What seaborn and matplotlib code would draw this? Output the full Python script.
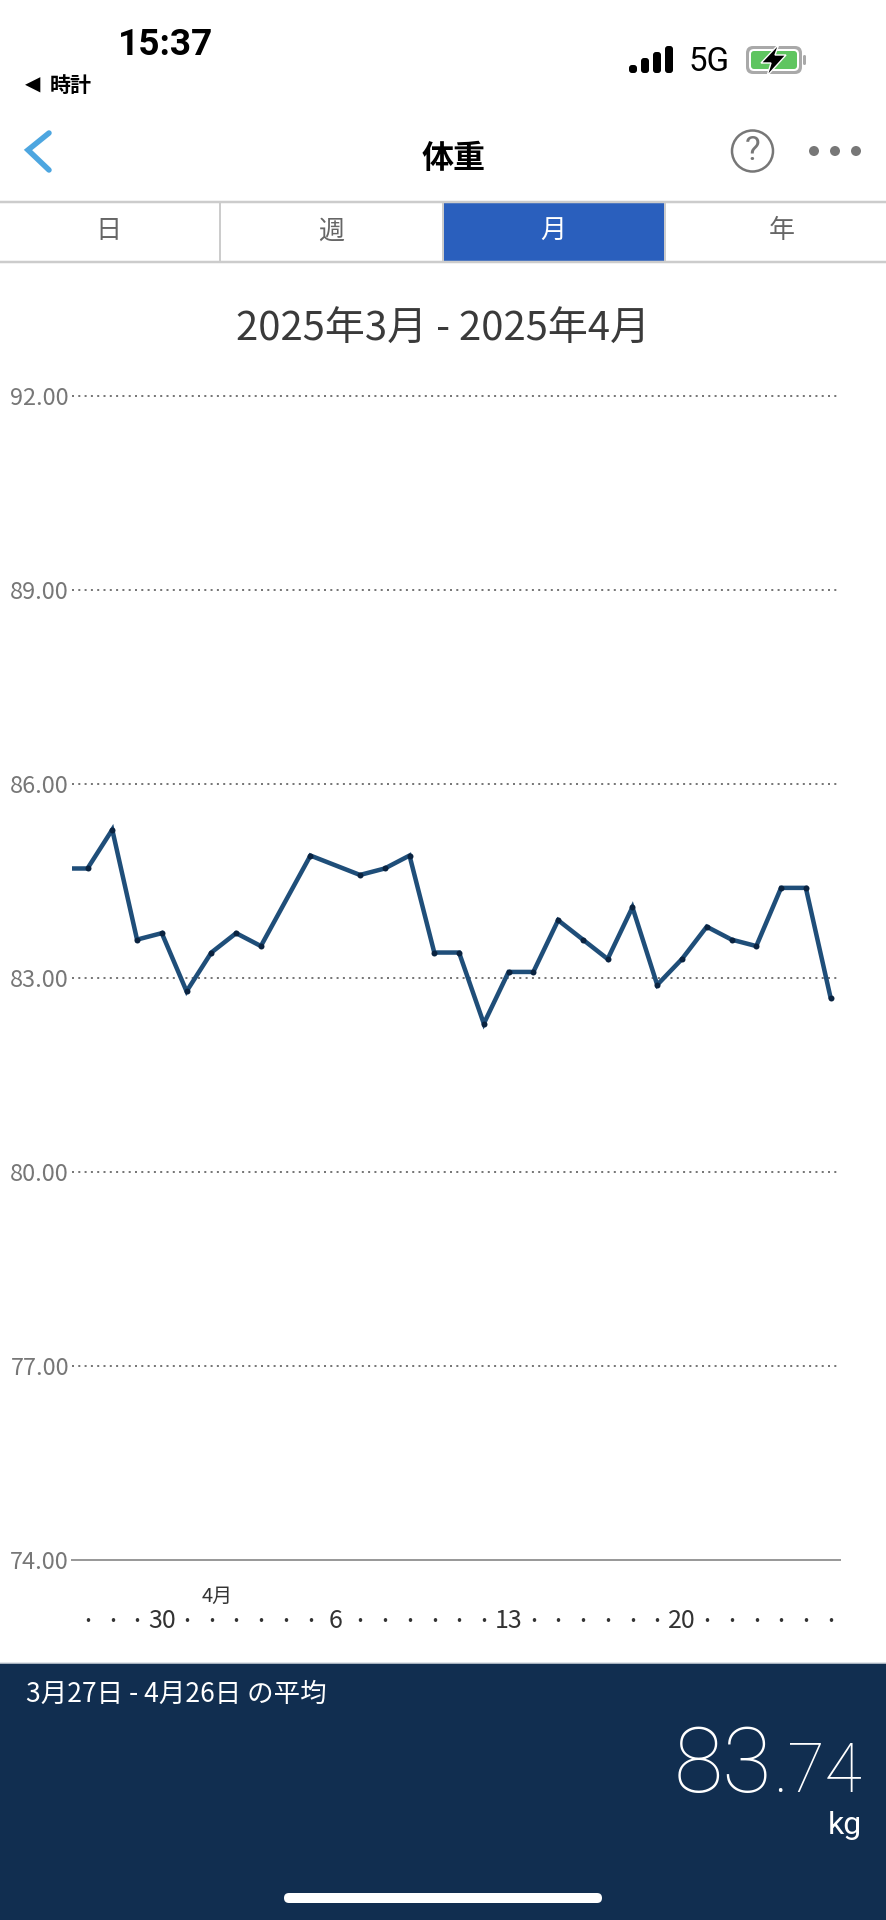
import matplotlib
matplotlib.use("Agg")
import matplotlib.pyplot as plt
from matplotlib.patches import FancyBboxPatch, Rectangle, Circle, Polygon
import pandas as pd
import seaborn as sns

# Data (days counted from 3/27, -1 is the clipped point on the left edge)
day_offset = [-1, 0, 1, 2, 3, 4, 5, 6, 7, 9, 11, 12, 13, 14, 15, 16, 17, 18, 19,
              20, 21, 22, 23, 24, 25, 26, 27, 28, 29, 30]
weight = [84.7, 84.7, 85.3, 83.6, 83.7, 82.8, 83.4, 83.7, 83.5, 84.9, 84.6, 84.7, 84.9, 83.4, 83.4,
          82.3, 83.1, 83.1, 83.9, 83.6, 83.3, 84.1, 82.9, 83.3, 83.8, 83.6, 83.5, 84.4, 84.4, 82.7]
y_ticks = [74, 77, 80, 83, 86, 89, 92]
x_ticks = list(range(31))
x_labels = ["•", "•", "•", "30", "•", "•", "•", "•", "•", "•", "6", "•", "•", "•", "•", "•", "•", "13",
            "•", "•", "•", "•", "•", "•", "20", "•", "•", "•", "•", "•", "•"]
tabs = ["日", "週", "月", "年"]

W, H = 886, 1920
NARROW = ["Liberation Sans Narrow", "Noto Sans CJK JP", "DejaVu Sans"]
NAVY = "#112e50"


def px(size):
    return size * 0.72


sns.set_theme(style="white")
plt.rcParams["font.family"] = NARROW

fig = plt.figure(figsize=(W / 100, H / 100), dpi=100, facecolor="white")

# Screen furniture, in pixels
ui = fig.add_axes([0, 0, 1, 1], zorder=0)
ui.set_xlim(0, W)
ui.set_ylim(H, 0)
ui.axis("off")


def label(x, y, s, size, color="#333333", ha="center", va="center", **kw):
    return ui.text(x, y, s, fontsize=px(size), color=color, ha=ha, va=va, **kw)


def rounded(x, y, w, h, r, color, **kw):
    ui.add_patch(FancyBboxPatch((x + r, y + r), w - 2 * r, h - 2 * r, boxstyle=f"round,pad={r}",
                                fc=color, ec="none", **kw))


# status bar
label(166, 45, "15:37", 37, "black", family=["Roboto", "DejaVu Sans"], weight="bold")
label(33, 85, "◀", 20, "black", family=["DejaVu Sans"])
label(71, 85, "時計", 21, "black", family=["Noto Sans CJK JP"], weight="bold")
for bx, top in zip([629, 641, 653, 665], [65, 58, 52, 46]):
    rounded(bx, top, 8, 73 - top, 3, "black")
label(709, 62, "5G", 33, "black", family=["Roboto", "DejaVu Sans"])
rounded(746, 46, 56, 28, 7, "#a9a9a9")
rounded(749, 49, 50, 22, 5, "white")
rounded(751, 51, 46, 18, 3, "#5fc560")
rounded(803, 55, 3, 10, 1.5, "#a9a9a9")
ui.add_patch(Polygon([(779, 44), (761, 63), (771, 63), (767, 76), (786, 55), (775, 55)],
                     fc="black", ec="white", lw=1))

# nav bar
ui.plot([49, 28, 49], [133, 150, 170], color="#4da6e0", lw=px(5.5), solid_joinstyle="miter")
label(454, 159, "体重", 32, "black", family=["Noto Sans CJK JP"], weight="bold")
ui.add_patch(Circle((752.5, 151), 20.5, fc="none", ec="#777777", lw=px(2.5)))
label(752.5, 151, "?", 33, "#777777", family=["Roboto", "DejaVu Sans"])
for cx in [814, 835, 856]:
    ui.add_patch(Circle((cx, 151), 5, fc="#777777", ec="none"))

# tabs
ui.add_patch(Rectangle((442, 203), 222, 58, fc="#2a5fbd", ec="none"))
ui.plot([0, W], [202, 202], color="#cccccc", lw=px(2.5))
ui.plot([0, W], [262, 262], color="#cccccc", lw=px(2.5))
for dx in [220, 443, 665]:
    ui.plot([dx, dx], [202, 262], color="#cccccc", lw=px(2))
for tx, tab in zip([108, 331, 553, 782], tabs):
    label(tx, 231, tab, 26, "white" if tab == "月" else "#666666", family=["Noto Sans CJK JP"])

label(443, 330, "2025年3月 - 2025年4月", 40, "#3a3a3a")

# bottom panel
ui.add_patch(Rectangle((0, 1663), W, H - 1663, fc=NAVY, ec="none"))
ui.plot([0, W], [1662.5, 1662.5], color="#d8dde3", lw=px(1.5))
label(26, 1694, "3月27日 - 4月26日 の平均", 26.5, "white", ha="left")
label(772, 1792, "83", 90, "white", ha="right", va="baseline", family=["Roboto", "DejaVu Sans"], weight="ultralight")
label(862, 1792, ".74", 68, "white", ha="right", va="baseline", family=["Roboto", "DejaVu Sans"], weight="light")
label(862, 1826, "kg", 32, "white", ha="right", family=["Roboto", "DejaVu Sans"])
rounded(284, 1893, 318, 10, 5, "white")

# Chart
ax_left, ax_right, ax_top, ax_bottom = 72, 840, 396.5, 1560.3
ax = fig.add_axes([ax_left / W, 1 - ax_bottom / H, (ax_right - ax_left) / W, (ax_bottom - ax_top) / H], zorder=1)
ax.patch.set_alpha(0)

df = pd.DataFrame({"day": day_offset, "kg": weight})
sns.lineplot(data=df, x="day", y="kg", ax=ax, color="#1f4e79", lw=px(4.5), marker="o", markersize=px(6),
             markerfacecolor="#0a2340", markeredgewidth=0, solid_joinstyle="miter", errorbar=None)

ax.set_xlim((ax_left - 87.5) / 24.77, (ax_right - 87.5) / 24.77)
ax.set_ylim(74, 92)
ax.set_xlabel("")
ax.set_ylabel("")
ax.set_yticks(y_ticks)
ax.set_yticklabels([f"{v:.2f}" for v in y_ticks], fontsize=px(23.5), color="#777777")
ax.set_xticks(x_ticks)
ax.set_xticklabels(x_labels, fontsize=px(25), color="#333333")
for t in ax.get_xticklabels():
    t.set_verticalalignment("center")
    if t.get_text() == "•":
        t.set_fontsize(px(12))
        t.set_family(["DejaVu Sans"])
ax.tick_params(axis="y", length=0, pad=px(3))
ax.tick_params(axis="x", length=0, pad=px(61))
ax.grid(axis="y", color="#777777", lw=px(2), linestyle=(0, (1, 2.15)))
for gl in ax.yaxis.get_gridlines():
    gl.set_clip_on(False)
ax.set_axisbelow(True)
for side in ["top", "left", "right"]:
    ax.spines[side].set_visible(False)
ax.spines["bottom"].set_color("#999999")
ax.spines["bottom"].set_linewidth(px(2))

label(217.5, 1596, "4月", 20, "#333333")

fig.savefig("out.png", dpi=100)
